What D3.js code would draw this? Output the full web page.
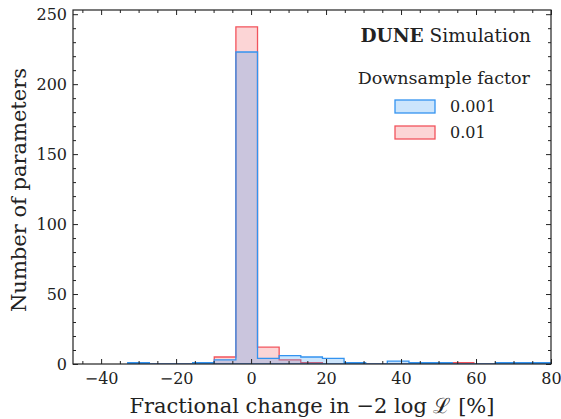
<!DOCTYPE html>
<html>
<head>
<meta charset="utf-8">
<script src="https://cdn.jsdelivr.net/npm/d3@7"></script>
<style>
  body { margin: 0; background: #fff; }
  text { font-family: "DejaVu Serif", "Liberation Serif", serif; fill: #222; }
</style>
</head>
<body>
<div id="chart"></div>
<script>
// 20 equal bins over the data range
const binEdges = [-32.9, -27.13, -21.36, -15.59, -9.82, -4.05, 1.72, 7.49, 13.26, 19.03,
  24.8, 30.57, 36.34, 42.11, 47.88, 53.65, 59.42, 65.19, 70.96, 76.73, 82.5];
const countsFine = [1, 0, 0, 1, 3, 223, 4, 6, 5, 4, 1, 0, 2, 1, 1, 0, 0, 1, 1, 1];   // 0.001
const countsCoarse = [0, 0, 0, 0, 5, 241, 12, 3, 1, 0, 0, 0, 0, 0, 0, 1, 0, 0, 0, 0]; // 0.01
const xTicks = [-40, -20, 0, 20, 40, 60, 80];
const yTicks = [0, 50, 100, 150, 200, 250];

const width = 561;
const height = 419;
const margin = { top: 10, right: 10, bottom: 55, left: 73 };

const svg = d3.select("#chart")
  .append("svg")
  .attr("width", width)
  .attr("height", height);

const x = d3.scaleLinear()
  .domain([-47.5, 80])
  .range([margin.left, width - margin.right]);

const y = d3.scaleLinear()
  .domain([0, 253])
  .range([height - margin.bottom, margin.top]);

svg.append("clipPath").attr("id", "clip")
  .append("rect")
  .attr("x", margin.left).attr("y", margin.top)
  .attr("width", width - margin.left - margin.right)
  .attr("height", height - margin.top - margin.bottom);

function stepPath(counts) {
  const pts = [[binEdges[0], 0]];
  counts.forEach((c, i) => {
    pts.push([binEdges[i], c]);
    pts.push([binEdges[i + 1], c]);
  });
  pts.push([binEdges[binEdges.length - 1], 0]);
  return d3.line().x(d => x(d[0])).y(d => y(d[1]))(pts) + "Z";
}

const series = [
  { label: "0.01", counts: countsCoarse, stroke: "#f2545c", fill: "rgba(243,87,91,0.25)" },
  { label: "0.001", counts: countsFine, stroke: "#3393f0", fill: "rgba(51,151,243,0.25)" }
];

const g = svg.append("g").attr("clip-path", "url(#clip)");
series.forEach(s => {
  g.append("path")
    .attr("d", stepPath(s.counts))
    .attr("fill", s.fill)
    .attr("stroke", s.stroke)
    .attr("stroke-width", 1.3);
});

// axes, ticks pointing in on all four sides
const xMinor = d3.range(-45, 81, 5).filter(v => v % 20 !== 0);
const yMinor = d3.range(0, 251, 10).filter(v => v % 50 !== 0);
const bottom = height - margin.bottom;
const right = width - margin.right;

function styleAxis(sel) {
  sel.attr("font-family", null);
  sel.select(".domain").remove();
  sel.selectAll("line").attr("stroke", "#222").attr("stroke-width", 1);
  sel.selectAll("text").attr("font-size", 16).attr("fill", "#222");
}

svg.append("g").attr("transform", `translate(0,${bottom})`)
  .call(d3.axisBottom(x).tickValues(xTicks).tickSize(-5).tickPadding(9)
    .tickFormat(d => d < 0 ? "\u2212" + Math.abs(d) : d))
  .call(styleAxis);
svg.append("g").attr("transform", `translate(0,${bottom})`)
  .call(d3.axisBottom(x).tickValues(xMinor).tickSize(-3).tickFormat(""))
  .call(styleAxis);
svg.append("g").attr("transform", `translate(0,${margin.top})`)
  .call(d3.axisTop(x).tickValues(xTicks).tickSize(-5).tickFormat(""))
  .call(styleAxis);
svg.append("g").attr("transform", `translate(0,${margin.top})`)
  .call(d3.axisTop(x).tickValues(xMinor).tickSize(-3).tickFormat(""))
  .call(styleAxis);

svg.append("g").attr("transform", `translate(${margin.left},0)`)
  .call(d3.axisLeft(y).tickValues(yTicks).tickSize(-5).tickPadding(6))
  .call(styleAxis);
svg.append("g").attr("transform", `translate(${margin.left},0)`)
  .call(d3.axisLeft(y).tickValues(yMinor).tickSize(-3).tickFormat(""))
  .call(styleAxis);
svg.append("g").attr("transform", `translate(${right},0)`)
  .call(d3.axisRight(y).tickValues(yTicks).tickSize(-5).tickFormat(""))
  .call(styleAxis);
svg.append("g").attr("transform", `translate(${right},0)`)
  .call(d3.axisRight(y).tickValues(yMinor).tickSize(-3).tickFormat(""))
  .call(styleAxis);

svg.append("rect")
  .attr("x", margin.left).attr("y", margin.top)
  .attr("width", right - margin.left).attr("height", bottom - margin.top)
  .attr("fill", "none").attr("stroke", "#222").attr("stroke-width", 1.2);

// axis labels
svg.append("text")
  .attr("x", 312).attr("y", 413)
  .attr("text-anchor", "middle").attr("font-size", 21)
  .text("Fractional change in \u22122 log \u2112 [%]");

svg.append("text")
  .attr("transform", `translate(26,${(margin.top + bottom) / 2 + 3}) rotate(-90)`)
  .attr("text-anchor", "middle").attr("font-size", 21)
  .text("Number of parameters");

// title and legend
const title = svg.append("text")
  .attr("x", 531).attr("y", 42).attr("text-anchor", "end").attr("font-size", 18.5);
title.append("tspan").attr("font-weight", "bold").text("DUNE");
title.append("tspan").text(" Simulation");

svg.append("text")
  .attr("x", 530).attr("y", 84).attr("text-anchor", "end").attr("font-size", 17.5)
  .text("Downsample factor");

const legendItems = series.slice().reverse();
legendItems.forEach((s, i) => {
  const yy = 100 + i * 26;
  svg.append("rect")
    .attr("x", 395).attr("y", yy).attr("width", 40).attr("height", 13)
    .attr("fill", s.fill).attr("stroke", s.stroke).attr("stroke-width", 1.3);
  svg.append("text")
    .attr("x", 450).attr("y", yy + 12).attr("font-size", 16)
    .text(s.label);
});
</script>
</body>
</html>
